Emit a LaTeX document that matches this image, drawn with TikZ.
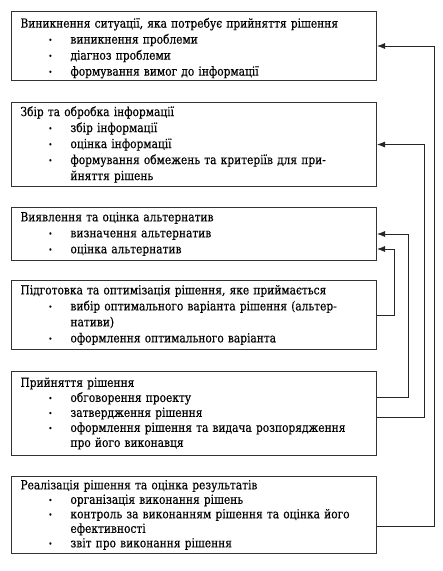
\documentclass[tikz,border=0pt]{standalone}
\usepackage{fontspec}
\setmainfont{DejaVu Serif}[FakeStretch=0.85, FakeBold=0.4]
\usetikzlibrary{arrows.meta}
\newcommand{\itm}[1]{\hspace*{28pt}\makebox[22pt][l]{\raisebox{1pt}{\scalebox{0.6}{\textbullet}}}#1}
\newcommand{\cnt}[1]{\hspace*{50pt}#1}
\newcommand{\spr}[1]{\hspace*{28pt}\makebox[22pt][l]{\raisebox{1pt}{\scalebox{0.6}{\textbullet}}}\makebox[300pt][s]{#1}}
\newcommand{\tp}{\rule{0pt}{14pt}}

\begin{document}
\begin{tikzpicture}[x=1pt, y=-1pt, >={Latex[length=8pt,width=6pt]},
    stage/.style={draw=black!80, line width=1pt, anchor=north west, text width=347pt,
      inner xsep=9pt, inner ysep=0pt, align=left,
      font=\fontsize{12.5}{16}\selectfont},
    tight/.style={font=\fontsize{12.5}{15}\selectfont},
    link/.style={->, draw=black!85, line width=0.8pt}]
  \useasboundingbox (0,0) rectangle (443,571);
  \node[stage, minimum height=69pt] (b1) at (11,11)
    {\tp Виникнення ситуації, яка потребує прийняття рішення\\
     \itm{виникнення проблеми}\\
     \itm{діагноз проблеми}\\
     \itm{формування вимог до інформації}};
  \node[stage, minimum height=84pt] (b2) at (11,102)
    {Збір та обробка інформації\\
     \itm{збір інформації}\\
     \itm{оцінка інформації}\\
     \spr{формування обмежень та критеріїв для при-}\\
     \cnt{йняття рішень}};
  \node[stage, minimum height=53pt] (b3) at (11,207)
    {Виявлення та оцінка альтернатив\\
     \itm{визначення альтернатив}\\
     \itm{оцінка альтернатив}};
  \node[stage, minimum height=69pt] (b4) at (11,280)
    {Підготовка та оптимізація рішення, яке приймається\\
     \spr{вибір оптимального варіанта рішення (альтер-}\\
     \cnt{нативи)}\\
     \itm{оформлення оптимального варіанта}};
  \node[stage, tight, minimum height=84pt] (b5) at (11,371)
    {Прийняття рішення\\
     \itm{обговорення проекту}\\
     \itm{затвердження рішення}\\
     \itm{оформлення рішення та видача розпорядження}\\
     \cnt{про його виконавця}};
  \node[stage, font=\fontsize{12.5}{14.5}\selectfont, minimum height=77pt] (b6) at (11,476)
    {Реалізація рішення та оцінка результатів\\
     \itm{організація виконання рішень}\\
     \itm{контроль за виконанням рішення та оцінка його}\\
     \cnt{ефективності}\\
     \itm{звіт про виконання рішення}};
  % feedback lines
  \draw[link] ([yshift=-11.5pt]b6.east) -- ++(57,0) |- (b1.east);
  \draw[link] ([yshift=-4pt]b5.east) -- ++(47,0) |- (b2.east);
  \draw[link] ([yshift=16pt]b5.east) -- ++(31,0) |- (b3.east);
  \draw[link] (b4.east) -- ++(17,0) |- ([yshift=-15pt]b3.east);
\end{tikzpicture}
\end{document}
